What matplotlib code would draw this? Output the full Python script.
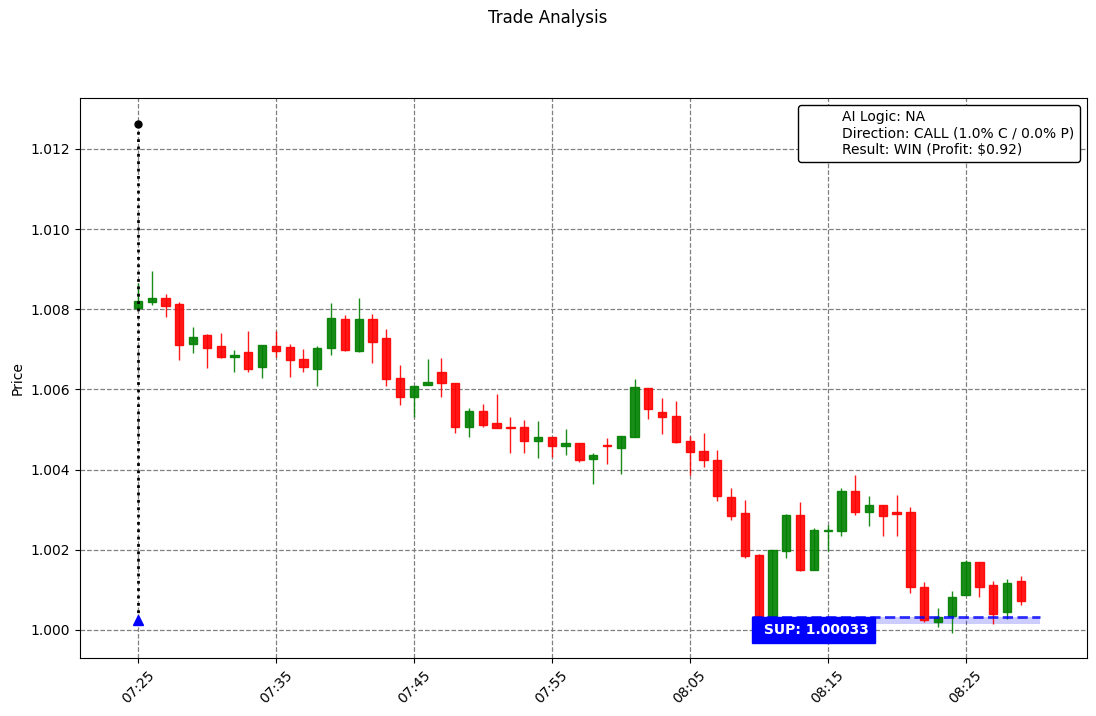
import matplotlib
matplotlib.use("Agg")
import matplotlib.pyplot as plt
import matplotlib.dates as mdates
from matplotlib.lines import Line2D
import pandas as pd
import numpy as np

start_time = "2024-01-01 07:25"
n_candles = 65
opens = [1.00804, 1.00819, 1.00828, 1.00813, 1.00714, 1.00736, 1.00709, 1.00682, 1.00694, 1.00655,
         1.00709, 1.00705, 1.00676, 1.00652, 1.00704, 1.00776, 1.00695, 1.00776, 1.00729, 1.00628,
         1.00580, 1.00612, 1.00644, 1.00616, 1.00507, 1.00546, 1.00516, 1.00507, 1.00506, 1.00472,
         1.00481, 1.00460, 1.00467, 1.00427, 1.00461, 1.00455, 1.00482, 1.00604, 1.00544, 1.00534,
         1.00472, 1.00447, 1.00424, 1.00332, 1.00291, 1.00187, 1.00033, 1.00198, 1.00287, 1.00150,
         1.00247, 1.00248, 1.00347, 1.00295, 1.00312, 1.00293, 1.00293, 1.00108, 1.00021, 1.00036,
         1.00086, 1.00170, 1.00112, 1.00046, 1.00122]
highs = [1.00866, 1.00895, 1.00838, 1.00818, 1.00755, 1.00739, 1.00740, 1.00699, 1.00746, 1.00711,
         1.00746, 1.00713, 1.00700, 1.00709, 1.00815, 1.00786, 1.00828, 1.00788, 1.00750, 1.00660,
         1.00609, 1.00675, 1.00678, 1.00616, 1.00553, 1.00563, 1.00588, 1.00531, 1.00524, 1.00521,
         1.00481, 1.00501, 1.00467, 1.00441, 1.00478, 1.00483, 1.00625, 1.00604, 1.00578, 1.00571,
         1.00484, 1.00491, 1.00448, 1.00354, 1.00324, 1.00190, 1.00200, 1.00289, 1.00320, 1.00255,
         1.00262, 1.00354, 1.00387, 1.00334, 1.00312, 1.00337, 1.00306, 1.00120, 1.00054, 1.00096,
         1.00175, 1.00170, 1.00122, 1.00127, 1.00135]
lows = [1.00800, 1.00811, 1.00780, 1.00673, 1.00690, 1.00653, 1.00678, 1.00643, 1.00643, 1.00628,
        1.00682, 1.00630, 1.00643, 1.00608, 1.00685, 1.00695, 1.00694, 1.00665, 1.00608, 1.00561,
        1.00530, 1.00612, 1.00582, 1.00491, 1.00481, 1.00506, 1.00505, 1.00441, 1.00442, 1.00428,
        1.00432, 1.00436, 1.00418, 1.00364, 1.00413, 1.00388, 1.00482, 1.00526, 1.00488, 1.00467,
        1.00386, 1.00406, 1.00321, 1.00274, 1.00179, 1.00020, 1.00025, 1.00179, 1.00148, 1.00150,
        1.00198, 1.00235, 1.00287, 1.00259, 1.00235, 1.00235, 1.00092, 1.00019, 1.00007, 0.99992,
        1.00086, 1.00081, 1.00014, 1.00027, 1.00062]
closes = [1.00820, 1.00828, 1.00807, 1.00712, 1.00731, 1.00704, 1.00682, 1.00686, 1.00652, 1.00710,
          1.00697, 1.00674, 1.00657, 1.00704, 1.00778, 1.00699, 1.00776, 1.00719, 1.00627, 1.00580,
          1.00609, 1.00619, 1.00615, 1.00507, 1.00546, 1.00511, 1.00505, 1.00505, 1.00472, 1.00481,
          1.00460, 1.00467, 1.00424, 1.00436, 1.00458, 1.00483, 1.00606, 1.00552, 1.00530, 1.00470,
          1.00445, 1.00423, 1.00333, 1.00283, 1.00185, 1.00030, 1.00200, 1.00287, 1.00150, 1.00250,
          1.00250, 1.00347, 1.00293, 1.00312, 1.00285, 1.00289, 1.00106, 1.00025, 1.00032, 1.00083,
          1.00170, 1.00106, 1.00041, 1.00117, 1.00073]

support_level = 1.00033
support_band_low = 1.00016
entry_marker_top = 1.01262
entry_marker_bottom = 1.00025
legend_lines = ["AI Logic: NA",
                "Direction: CALL (1.0% C / 0.0% P)",
                "Result: WIN (Profit: $0.92)"]

times = pd.date_range(start_time, periods=n_candles, freq="min")
x = mdates.date2num(times.to_pydatetime())
minute = 1.0 / 1440.0

fig = plt.figure(figsize=(10.96, 7.16), dpi=100)
ax = fig.add_axes([80 / 1096, 1 - 658 / 716, (1087 - 80) / 1096, (658 - 98) / 716])

o = np.array(opens); h = np.array(highs); l = np.array(lows); c = np.array(closes)
up = c >= o
colors = np.where(up, "green", "red")

ax.vlines(x, l, h, colors=colors, linewidth=1.0, alpha=0.9, zorder=2)
bottoms = np.minimum(o, c)
heights = np.abs(c - o)
ax.bar(x, heights, width=0.6 * minute, bottom=bottoms, color=colors,
       edgecolor=colors, linewidth=1.0, alpha=0.9, zorder=3)

# support zone
x_sup0 = x[0] + 44.5 * minute
x_sup1 = x[0] + 65.4 * minute
ax.fill_between([x_sup0, x_sup1], support_band_low, support_level,
                color="blue", alpha=0.2, linewidth=0, zorder=1)
ax.plot([x_sup0, x_sup1], [support_level, support_level], color="blue",
        linestyle="--", linewidth=2, alpha=0.8, zorder=4)
ax.text(x[0] + 45.0 * minute, support_level - 0.00033, f" SUP: {support_level:.5f}",
        color="white", fontweight="bold", fontsize=10, va="center", ha="left",
        bbox=dict(facecolor="blue", edgecolor="blue", pad=4.5), zorder=6)

# entry marker
ax.plot([x[0], x[0]], [entry_marker_top, entry_marker_bottom], color="black",
        linestyle=":", linewidth=2, zorder=5)
ax.plot(x[0], entry_marker_top, "o", color="black", markersize=5, zorder=6)
ax.plot(x[0], entry_marker_bottom, "^", color="blue", markersize=7, zorder=6)

ax.set_xlim(x[0] - 4.2 * minute, x[0] + 68.8 * minute)
ax.set_ylim(0.99930, 1.01327)
ax.set_yticks([1.000, 1.002, 1.004, 1.006, 1.008, 1.010, 1.012])
ax.yaxis.set_major_formatter(matplotlib.ticker.FormatStrFormatter("%.3f"))
ax.xaxis.set_major_locator(mdates.MinuteLocator(byminute=[5, 15, 25, 35, 45, 55]))
ax.xaxis.set_major_formatter(mdates.DateFormatter("%H:%M"))
plt.setp(ax.get_xticklabels(), rotation=45)
ax.set_ylabel("Price")
ax.grid(True, linestyle="--", color="gray", linewidth=0.9, alpha=1.0, zorder=0)
ax.set_axisbelow(True)

handles = [Line2D([], [], linestyle="none") for _ in legend_lines]
leg = ax.legend(handles, legend_lines, loc="upper right", framealpha=1,
                edgecolor="black", fontsize=10, handletextpad=0.8,
                labelspacing=0.15)
fig.suptitle("Trade Analysis", y=0.987, fontsize=12)

fig.savefig("out.png", dpi=100)
